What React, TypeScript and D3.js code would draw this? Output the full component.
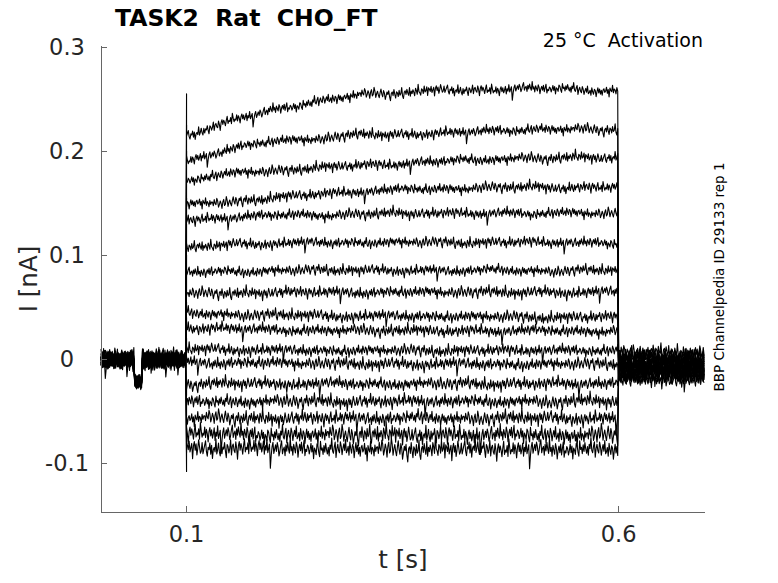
import * as d3 from 'd3'

// recording: 17 activation sweeps, holding -> step (0.1 s) -> tail (0.6 s)
const levelTimes = [0.1, 0.15, 0.2, 0.3, 0.4, 0.5, 0.6]

// step current per sweep (nA) at levelTimes, top sweep first
const sweepLevels = [
  [0.215, 0.228, 0.24, 0.254, 0.258, 0.26, 0.258],
  [0.19, 0.202, 0.209, 0.215, 0.217, 0.221, 0.22],
  [0.172, 0.178, 0.181, 0.186, 0.19, 0.193, 0.194],
  [0.148, 0.151, 0.155, 0.161, 0.164, 0.165, 0.165],
  [0.134, 0.136, 0.138, 0.139, 0.14, 0.14, 0.14],
  [0.106, 0.11, 0.111, 0.112, 0.112, 0.112, 0.111],
  [0.083, 0.084, 0.085, 0.085, 0.085, 0.085, 0.085],
  [0.062, 0.063, 0.064, 0.064, 0.064, 0.064, 0.064],
  [0.044, 0.043, 0.042, 0.041, 0.041, 0.04, 0.04],
  [0.03, 0.029, 0.028, 0.027, 0.027, 0.027, 0.027],
  [0.009, 0.009, 0.008, 0.008, 0.008, 0.008, 0.008],
  [-0.003, -0.004, -0.004, -0.005, -0.005, -0.005, -0.005],
  [-0.024, -0.024, -0.024, -0.024, -0.024, -0.024, -0.024],
  [-0.041, -0.041, -0.041, -0.041, -0.041, -0.041, -0.041],
  [-0.057, -0.057, -0.057, -0.057, -0.057, -0.057, -0.057],
  [-0.072, -0.072, -0.073, -0.073, -0.073, -0.073, -0.073],
  [-0.086, -0.086, -0.086, -0.087, -0.087, -0.087, -0.087],
]

const holdingLevels = [0.002, -0.003, 0.0, -0.004, 0.003, -0.001, -0.003, 0.002, -0.004, 0.0, -0.002, 0.001, -0.001, -0.004, 0.001, -0.002, -0.001]
const tailLevels = [0.006, 0.003, 0.0, -0.003, -0.005, 0.002, -0.008, -0.01, -0.004, -0.013, -0.006, -0.015, -0.009, -0.018, -0.011, -0.02, -0.014]
const onsetPeaks = [0.255, 0.225, 0.2, 0.175, 0.155, 0.13, 0.1, 0.08, 0.055, 0.04, 0.02, 0.0, -0.035, -0.055, -0.075, -0.09, -0.108]
const noiseGain = [1.2, 1.2, 1.2, 1.2, 1.2, 1.2, 1.2, 1.3, 1.3, 1.3, 1.3, 1.4, 1.4, 1.5, 1.6, 2.0, 2.1]
const noiseOffsets = [0, 53, 118, 171, 29, 240, 87, 199, 146, 12, 265, 64, 223, 101, 180, 37, 280]
const wanderOffsets = [0, 9, 23, 4, 31, 15, 40, 27, 6, 35, 18, 44, 12, 29, 2, 38, 21]

// prepulse artefact before the step
const prepulseWindow = [0.0395, 0.049]
const prepulseLevel = -0.022

// fast recording noise, pA (1 ms samples)
const noise = [
  1, -2, 3, 0, -1, 4, 2, -3, -1, 2, 0, -4, 1, 3, -2, -1, 5, 2, -3, 0,
  2, -1, -3, 1, 4, 0, -2, 3, 1, -4, -1, 2, 0, 3, -2, -5, 1, 2, -1, 4,
  0, -3, 2, 1, -2, 3, -1, 0, 5, -2, -4, 1, 2, -1, 3, 0, -2, 4, -3, 1,
  -1, 2, 0, -3, 3, 1, -2, 6, 0, -1, -3, 2, 1, -2, 4, -1, 0, 3, -4, 2,
  1, -1, 3, -2, 0, 2, -5, 1, 3, -1, 2, -3, 0, 4, 1, -2, -1, 3, -2, 0,
  2, 4, -1, -3, 1, 0, 3, -2, 2, -4, 0, 1, -1, 5, -2, 0, 3, -1, -3, 2,
  -2, 1, 0, 3, -1, -4, 2, 1, -2, 0, 4, -3, 1, 2, -1, -2, 3, 0, -5, 1,
  3, -1, 2, 0, -3, 1, 4, -2, 0, -1, 2, -3, 5, 1, -2, 0, -1, 3, -2, 2,
  0, -4, 1, 3, -1, 2, -2, 0, 3, -3, 1, -1, 4, -2, 0, 2, -9, -3, 1, 3,
  -2, 0, 2, -1, 3, 1, -3, -1, 2, 4, -2, 0, 1, -3, 2, -1, 3, 0, -2, 5,
  -1, 1, -3, 2, 0, -2, 3, 1, -4, 0, 2, -1, 3, -2, 1, 4, -3, 0, -1, 2,
  1, -2, 0, 3, -1, 2, -4, 1, 0, -2, 3, 2, -1, -3, 4, 0, 1, -2, 2, -1,
  3, 0, -2, 1, -3, 2, 0, 5, -1, -2, 1, 3, -4, 0, 2, -1, -2, 3, 1, -3,
  0, 2, -1, 4, -2, -1, 1, -3, 3, 0, -2, 2, 1, -4, 0, 3, -1, 2, -2, 1,
  -3, 1, 2, -1, 0, 3, -2, 1, -5, 2, 0, -1, 4, -2, 1, 0, -3, 2, -1, 1,
]

// slow baseline wander, pA (10 ms knots)
const wander = [
  0, 2, 3, 1, -2, -3, -1, 1, 3, 2, -1, -4, -2, 0, 2, 4, 3, 0, -2, -1,
  1, 0, -3, -4, -1, 2, 3, 1, -1, 0, 2, 3, 1, -2, -3, -2, 0, 1, 3, 4,
  2, -1, -2, 0, 1, -1, -3, -2, 1, 3, 2, 0, -1, 1, 3, 2, -2, -4, -3, 0,
  2, 1, -1, 0, 3, 4, 1, -2, -1, 1,
]

const xTicks = [0.1, 0.6]
const yTicks = [-0.1, 0, 0.1, 0.2, 0.3]

const W = 778
const H = 583
const box = { left: 101, right: 705, top: 46, bottom: 512 }
const font = 'DejaVu Sans, sans-serif'
const ink = '#262626'
const axisColor = '#666'

// MATLAB-style tick text with a plain hyphen
const tickText = (v: number) => (v === 0 ? '0' : v.toFixed(1))

export default function App() {
  const x = d3.scaleLinear().domain([0.001, 0.7]).range([box.left, box.right])
  const y = d3.scaleLinear().domain([-0.147, 0.301]).range([box.bottom, box.top])

  const times = d3.range(0.001, 0.7, 0.001)
  const traces = sweepLevels.map((lv, k) => {
    const step = d3.scaleLinear().domain(levelTimes).range(lv)
    const w = wanderOffsets[k]
    const knots = wander.map((_, j) => j * 0.01)
    const rolled = wander.map((_, j) => wander[(j + w) % wander.length])
    const slow = d3.scaleLinear().domain(knots).range(rolled).clamp(true)
    let onset = false
    const pts: [number, number][] = []
    times.forEach((t, i) => {
      const n = noise[(i + noiseOffsets[k]) % noise.length] / 1000
      const s = (slow(t) / 1000) * 0.4
      if (t < 0.1) {
        const inPre = t >= prepulseWindow[0] && t < prepulseWindow[1]
        pts.push([t, (inPre ? prepulseLevel : holdingLevels[k]) + n * 1.5 + s])
      } else if (t < 0.6) {
        if (!onset) {
          onset = true
          pts.push([0.1, onsetPeaks[k]])
        }
        pts.push([t, step(t) + n * noiseGain[k] + s])
      } else {
        pts.push([t, tailLevels[k] + n * 1.6 + s])
      }
    })
    return pts
  })

  const line = d3.line<[number, number]>()
    .x(d => x(d[0]))
    .y(d => y(d[1]))

  return (
    <svg width={W} height={H} style={{ position: 'absolute', left: 0, top: 0, background: '#fff' }}>
      <g fill="none" stroke="#000" strokeWidth={1.1} strokeLinejoin="round">
        {traces.map((pts, k) => (
          <path key={k} d={line(pts) ?? ''} />
        ))}
      </g>

      {/* axes */}
      <g stroke={axisColor} strokeWidth={1} shapeRendering="crispEdges">
        <line x1={box.left} x2={box.left} y1={box.top} y2={box.bottom} />
        <line x1={box.left} x2={box.right} y1={box.bottom} y2={box.bottom} />
        {yTicks.map(v => (
          <line key={v} x1={box.left} x2={box.left + 6} y1={y(v)} y2={y(v)} />
        ))}
        {xTicks.map(v => (
          <line key={v} x1={x(v)} x2={x(v)} y1={box.bottom} y2={box.bottom - 6} />
        ))}
      </g>

      <g fill={ink} fontFamily={font} fontSize={22.5}>
        {yTicks.map(v => (
          <text key={v} x={67} y={y(v)} dy="0.35em" textAnchor="middle">{tickText(v)}</text>
        ))}
        {xTicks.map(v => (
          <text key={v} x={x(v)} y={542} textAnchor="middle">{tickText(v)}</text>
        ))}
      </g>

      <text x={(box.left + box.right) / 2} y={568} textAnchor="middle" fill={ink} fontFamily={font} fontSize={24.5}>t [s]</text>
      <text transform={`translate(37,${(box.top + box.bottom) / 2}) rotate(-90)`} textAnchor="middle" fill={ink} fontFamily={font} fontSize={24.5}>I [nA]</text>

      <text x={115} y={26} fill="#000" fontFamily={font} fontSize={23.5} fontWeight="bold" style={{ whiteSpace: 'pre' }}>TASK2  Rat  CHO_FT</text>
      <text x={703} y={47} textAnchor="end" fill="#000" fontFamily={font} fontSize={19} style={{ whiteSpace: 'pre' }}>25 °C  Activation</text>
      <text transform="translate(724,277) rotate(-90)" textAnchor="middle" fill="#000" fontFamily={font} fontSize={13.5}>BBP Channelpedia ID 29133 rep 1</text>
    </svg>
  )
}
